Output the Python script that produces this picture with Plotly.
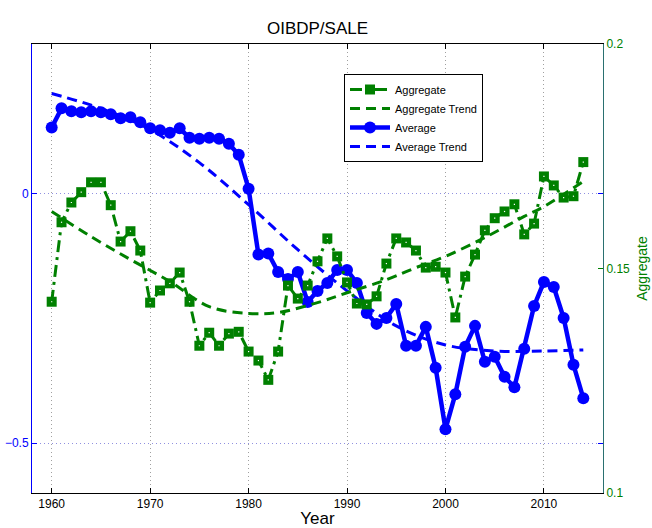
import plotly.graph_objects as go

years = list(range(1960, 2015))

average = [0.1325, 0.171, 0.165, 0.163, 0.165, 0.163, 0.159, 0.151, 0.153, 0.143,
           0.131, 0.127, 0.122, 0.131, 0.112, 0.110, 0.112, 0.110, 0.100, 0.078,
           0.010, -0.122, -0.120, -0.157, -0.171, -0.157, -0.217, -0.195, -0.179, -0.153,
           -0.153, -0.179, -0.239, -0.261, -0.249, -0.221, -0.305, -0.305, -0.267, -0.349,
           -0.472, -0.402, -0.307, -0.265, -0.337, -0.327, -0.367, -0.388, -0.311, -0.225,
           -0.177, -0.187, -0.249, -0.343, -0.410]

aggregate = [0.1426, 0.1603, 0.1647, 0.1670, 0.1692, 0.1692, 0.1641, 0.1560, 0.1583, 0.1540,
             0.1424, 0.1451, 0.1467, 0.1491, 0.1426, 0.1328, 0.1357, 0.1328, 0.1355, 0.1359,
             0.1315, 0.1295, 0.1252, 0.1315, 0.1462, 0.1433, 0.1462, 0.1516, 0.1567, 0.1527,
             0.1469, 0.1422, 0.1420, 0.1438, 0.1511, 0.1567, 0.1558, 0.1540, 0.1502, 0.1504,
             0.1491, 0.1391, 0.1482, 0.1531, 0.1585, 0.1612, 0.1627, 0.1643, 0.1576, 0.1600,
             0.1705, 0.1685, 0.1658, 0.1661, 0.1737]

avg_trend_years = [1960, 1965, 1970, 1975, 1980, 1985, 1990, 1995, 2000, 2005, 2010, 2014]
avg_trend = [0.2008, 0.1707, 0.1285, 0.0622, -0.0221, -0.1124, -0.1948, -0.2651,
             -0.3032, -0.3153, -0.3153, -0.3133]

agg_trend_years = [1960, 1964, 1968, 1972, 1976, 1980, 1983, 1987, 1990, 1994, 1997,
                   2000, 2004, 2008, 2010, 2014]
agg_trend = [0.1627, 0.1571, 0.1520, 0.1471, 0.1415, 0.1400, 0.1402, 0.1424, 0.1446,
             0.1475, 0.1502, 0.1527, 0.1569, 0.1616, 0.1638, 0.1694]

x_ticks = [1960, 1970, 1980, 1990, 2000, 2010]
left_ticks = [-0.5, 0]
left_labels = ["\u22120.5", "0"]
right_ticks = [0.1, 0.15, 0.2]
right_labels = ["0.1", "0.15", "0.2"]

GREEN = "#008000"
BLUE = "#0000ff"
FONT = "Liberation Sans, Arial, sans-serif"

fig = go.Figure()

fig.add_trace(go.Scatter(
    x=years, y=aggregate, name="Aggregate", yaxis="y2", mode="lines+markers",
    line=dict(color=GREEN, width=3, dash="12px,5px,3px,5px"),
    marker=dict(symbol="square", size=10, color=GREEN)))
fig.add_trace(go.Scatter(
    x=years, y=aggregate, yaxis="y2", mode="markers", showlegend=False, hoverinfo="skip",
    marker=dict(symbol="square", size=1.2, color="white", line=dict(width=0))))
fig.add_trace(go.Scatter(
    x=agg_trend_years, y=agg_trend, name="Aggregate Trend", yaxis="y2", mode="lines",
    line=dict(color=GREEN, width=3, dash="10px,6px", shape="spline")))
fig.add_trace(go.Scatter(
    x=years, y=average, name="Average", mode="lines+markers",
    line=dict(color=BLUE, width=4.5),
    marker=dict(symbol="circle", size=12, color=BLUE)))
fig.add_trace(go.Scatter(
    x=avg_trend_years, y=avg_trend, name="Average Trend", mode="lines",
    line=dict(color=BLUE, width=3, dash="10px,6px", shape="spline")))

fig.update_layout(
    width=652, height=528,
    margin=dict(l=32, r=49, t=44, b=35, autoexpand=False),
    paper_bgcolor="white", plot_bgcolor="white",
    font=dict(family=FONT, size=12, color="black"),
    title=dict(text="OIBDP/SALE", x=(32 + 603) / 2 / 652, xanchor="center",
               y=1 - 28 / 528, yanchor="middle", font=dict(size=17, color="black")),
    xaxis=dict(range=[1958, 2016], tickvals=x_ticks, ticks="inside", ticklen=5,
               tickcolor="black", showline=True, linecolor="black", linewidth=1, mirror="ticks",
               showgrid=True, gridcolor="#a0a0a0", griddash="1px,3px", gridwidth=1,
               zeroline=False, tickfont=dict(size=12), automargin=False,
               title=dict(text="Year", font=dict(size=17), standoff=5)),
    yaxis=dict(range=[-0.6, 0.3], tickvals=left_ticks, ticktext=left_labels,
               ticks="inside", ticklen=5, tickcolor=BLUE, showline=True, linecolor=BLUE,
               linewidth=1, mirror="ticks", showgrid=True, gridcolor="#9090e0",
               griddash="1px,3px", gridwidth=1, zeroline=False, automargin=False,
               tickfont=dict(size=12, color=BLUE)),
    yaxis2=dict(range=[0.1, 0.2], tickvals=right_ticks, ticktext=right_labels,
                overlaying="y", side="right", ticks="inside", ticklen=5, tickcolor=GREEN,
                showline=True, linecolor="#2a7070", linewidth=1, showgrid=False,
                zeroline=False, automargin=False, tickfont=dict(size=12, color=GREEN),
                title=dict(text="Aggregate", font=dict(size=14, color=GREEN), standoff=8)),
    legend=dict(x=(344 - 32) / 571, y=1 - (74 - 44) / 449, xanchor="left", yanchor="top",
                bgcolor="white", bordercolor="black", borderwidth=1,
                font=dict(size=11), tracegroupgap=0, itemwidth=40),
    showlegend=True,
)

fig.write_html("out.html")
